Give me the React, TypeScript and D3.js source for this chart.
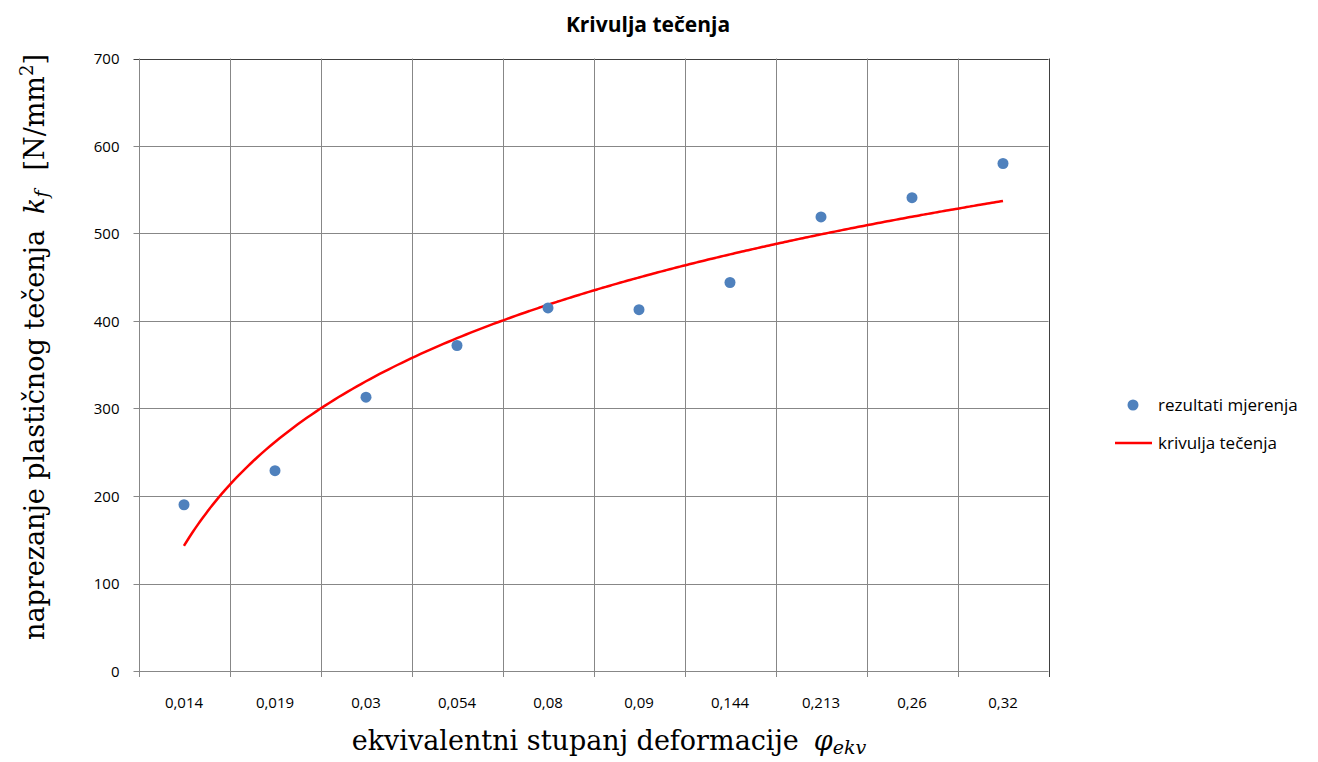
import { useRef, useEffect } from 'react';
import * as d3 from 'd3';

const categories = ['0,014', '0,019', '0,03', '0,054', '0,08', '0,09', '0,144', '0,213', '0,26', '0,32'];
const measured = [190, 229, 313, 372, 415, 413, 444, 519, 541, 580];
const yTicks = [0, 100, 200, 300, 400, 500, 600, 700];

const W = 1318;
const H = 762;
const PLOT = { left: 138.5, top: 58.5, right: 1048.5, bottom: 671 };

// logarithmic trendline (Excel style), fitted on category index 1..n
function logFit(values: number[]) {
  const lx = values.map((_, i) => Math.log(i + 1));
  const mx = d3.mean(lx)!;
  const my = d3.mean(values)!;
  let sxy = 0;
  let sxx = 0;
  lx.forEach((v, i) => {
    sxy += (v - mx) * (values[i] - my);
    sxx += (v - mx) * (v - mx);
  });
  const b = sxy / sxx;
  const a = my - b * mx;
  return (x: number) => a + b * Math.log(x);
}

export default function App() {
  const svgRef = useRef<SVGSVGElement>(null);

  useEffect(() => {
    const svg = d3.select(svgRef.current);
    svg.selectAll('*').remove();

    const x = d3.scaleBand<string>().domain(categories).range([PLOT.left, PLOT.right]);
    const y = d3.scaleLinear().domain([0, 700]).range([PLOT.bottom, PLOT.top]);
    const cx = (i: number) => x(categories[i])! + x.bandwidth() / 2;
    const font = '"Open Sans", "Liberation Sans", sans-serif';
    const grid = '#878787';

    svg.append('rect').attr('width', W).attr('height', H).attr('fill', '#fff');

    // Title
    svg
      .append('text')
      .attr('x', 648)
      .attr('y', 32)
      .attr('text-anchor', 'middle')
      .attr('font-family', font)
      .attr('font-size', 21)
      .attr('font-weight', 700)
      .attr('fill', '#000')
      .text('Krivulja tečenja');

    // Horizontal gridlines + y ticks
    yTicks.forEach((t) => {
      svg
        .append('line')
        .attr('x1', PLOT.left - 5)
        .attr('x2', PLOT.right)
        .attr('y1', Math.round(y(t)) + 0.5)
        .attr('y2', Math.round(y(t)) + 0.5)
        .attr('stroke', t === 700 ? '#404040' : grid)
        .attr('stroke-width', 1);
      svg
        .append('text')
        .attr('x', PLOT.left - 19)
        .attr('y', y(t) + 5.5)
        .attr('text-anchor', 'end')
        .attr('font-family', font)
        .attr('font-size', 15)
        .attr('fill', '#000')
        .text(String(t));
    });

    // Vertical gridlines at category boundaries
    const bounds = categories.map((c) => x(c)!).concat([PLOT.right]);
    bounds.forEach((b, i) => {
      const xx = Math.round(b) + 0.5;
      svg
        .append('line')
        .attr('x1', xx)
        .attr('x2', xx)
        .attr('y1', PLOT.top)
        .attr('y2', PLOT.bottom + 6)
        .attr('stroke', i === bounds.length - 1 ? '#404040' : grid)
        .attr('stroke-width', 1);
    });

    // X tick labels
    categories.forEach((c, i) => {
      svg
        .append('text')
        .attr('x', cx(i))
        .attr('y', 708)
        .attr('text-anchor', 'middle')
        .attr('font-family', font)
        .attr('font-size', 15)
        .attr('fill', '#000')
        .text(c);
    });

    // Trendline
    const fit = logFit(measured);
    const xs = d3.range(1, categories.length + 0.001, 0.05);
    const lineGen = d3
      .line<number>()
      .x((v) => cx(0) + (v - 1) * x.step())
      .y((v) => y(fit(v)))
      .curve(d3.curveMonotoneX);
    svg
      .append('path')
      .attr('d', lineGen(xs))
      .attr('fill', 'none')
      .attr('stroke', '#ff0000')
      .attr('stroke-width', 2.5);

    // Points
    measured.forEach((v, i) => {
      svg
        .append('circle')
        .attr('cx', cx(i))
        .attr('cy', y(v))
        .attr('r', 5.5)
        .attr('fill', '#4f81bd');
    });

    // Axis titles
    const serif = '"DejaVu Serif", "Liberation Serif", serif';
    const xt = svg
      .append('text')
      .attr('x', 609)
      .attr('y', 750)
      .attr('text-anchor', 'middle')
      .attr('font-family', serif)
      .attr('font-size', 27)
      .attr('fill', '#000');
    xt.append('tspan').text('ekvivalentni stupanj deformacije');
    xt.append('tspan').attr('dx', 15).attr('font-style', 'italic').text('φ');
    xt.append('tspan').attr('font-style', 'italic').attr('font-size', 19).attr('dy', 4).text('ekv');

    const yt = svg
      .append('text')
      .attr('transform', `translate(44, ${347}) rotate(-90)`)
      .attr('text-anchor', 'middle')
      .attr('font-family', serif)
      .attr('font-size', 27)
      .attr('fill', '#000');
    yt.append('tspan').text('naprezanje plastičnog tečenja');
    yt.append('tspan').attr('dx', 16).attr('font-style', 'italic').text('k');
    yt.append('tspan').attr('font-style', 'italic').attr('font-size', 19).attr('dy', 4).text('f');
    yt.append('tspan').attr('dx', 20).attr('dy', -4).text('[N/mm');
    yt.append('tspan').attr('font-size', 18).attr('dy', -11).text('2');
    yt.append('tspan').attr('dy', 11).text(']');

    // Legend
    svg.append('circle').attr('cx', 1133).attr('cy', 405).attr('r', 5.5).attr('fill', '#4f81bd');
    svg
      .append('text')
      .attr('x', 1158)
      .attr('y', 411)
      .attr('font-family', font)
      .attr('font-size', 17)
      .attr('fill', '#000')
      .text('rezultati mjerenja');
    svg
      .append('line')
      .attr('x1', 1115)
      .attr('x2', 1152)
      .attr('y1', 443)
      .attr('y2', 443)
      .attr('stroke', '#ff0000')
      .attr('stroke-width', 2.5);
    svg
      .append('text')
      .attr('x', 1158)
      .attr('y', 449)
      .attr('font-family', font)
      .attr('font-size', 17)
      .attr('fill', '#000')
      .text('krivulja tečenja');
  }, []);

  return (
    <svg
      ref={svgRef}
      width={W}
      height={H}
      style={{ position: 'absolute', left: 0, top: 0, display: 'block' }}
    />
  );
}
